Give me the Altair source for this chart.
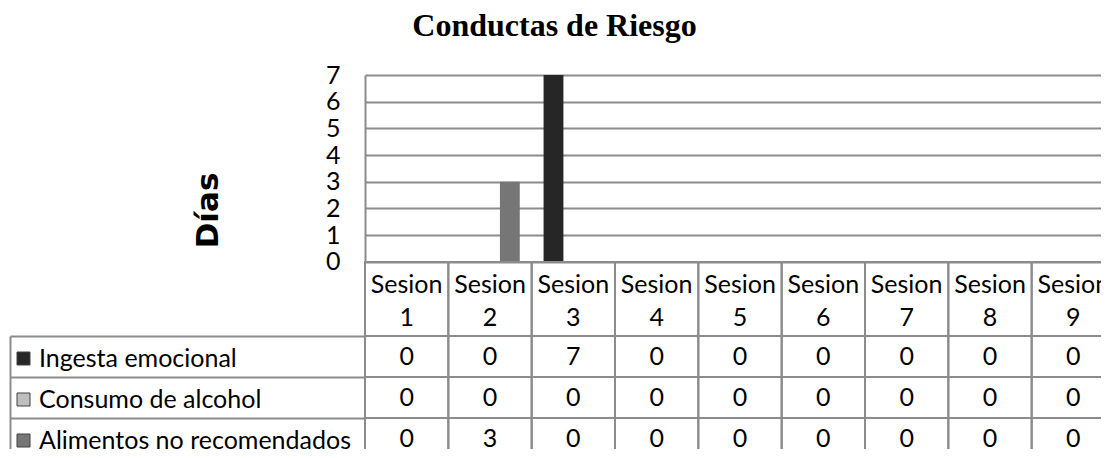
import altair as alt
import pandas as pd

sessions = [f"Sesion {i}" for i in range(1, 10)]
series = ["Ingesta emocional", "Consumo de alcohol", "Alimentos no recomendados"]
ingesta = [0, 0, 7, 0, 0, 0, 0, 0, 0]
consumo = [0, 0, 0, 0, 0, 0, 0, 0, 0]
alimentos = [0, 3, 0, 0, 0, 0, 0, 0, 0]
y_ticks = [0, 1, 2, 3, 4, 5, 6, 7]
colors = ["#262626", "#bfbfbf", "#767676"]

rows = []
for s, vals in zip(series, [ingesta, consumo, alimentos]):
    for sess, v in zip(sessions, vals):
        rows.append({"Sesion": sess, "Serie": s, "Valor": v})
df = pd.DataFrame(rows)
hdr = pd.DataFrame({"Sesion": sessions})

GRID = "#8c8c8c"
FONT = "Lato"
FS = 25
W = 750

x_scale = alt.Scale(domain=sessions, paddingInner=0, paddingOuter=0)
xenc = alt.X("Sesion:N", scale=x_scale, axis=None, sort=sessions)

bars = alt.Chart(df).mark_bar().encode(
    x=xenc,
    xOffset=alt.XOffset("Serie:N", sort=series,
                        scale=alt.Scale(domain=series, paddingInner=0, paddingOuter=0.6)),
    y=alt.Y("Valor:Q", scale=alt.Scale(domain=[0, 7], nice=False),
            axis=alt.Axis(values=y_ticks, title="Días", grid=True, ticks=False,
                          domain=True, domainColor=GRID, gridColor=GRID,
                          domainWidth=2, gridWidth=2, labelPadding=25,
                          labelFontSize=FS, labelFont=FONT, labelColor="black",
                          titleFont="DejaVu Sans", titleFontSize=31, titleFontWeight="bold",
                          titleColor="black", titleX=-157, titleY=135,
                          titleBaseline="middle", titleAngle=270)),
    color=alt.Color("Serie:N", sort=series, scale=alt.Scale(domain=series, range=colors),
                    legend=alt.Legend(orient="none", legendX=-354, legendY=271, title=None,
                                      symbolType="square", symbolSize=169,
                                      symbolStrokeColor="#404040", symbolStrokeWidth=1,
                                      symbolOpacity=1, labelLimit=500,
                                      labelFontSize=FS, labelFont=FONT, labelColor="black",
                                      labelOffset=3, rowPadding=15, padding=0)),
).properties(width=W, height=186.7)

hdr_cells = alt.Chart(hdr).mark_rect(fill="transparent", stroke=GRID, strokeWidth=2).encode(x=xenc)
hdr_text = alt.Chart(hdr).mark_text(lineBreak=" ", fontSize=FS, font=FONT, lineHeight=33,
                                    dy=-14, color="black").encode(x=xenc, text="Sesion:N")
header = alt.layer(hdr_cells, hdr_text).properties(width=W, height=74)

yrow = alt.Scale(domain=series, paddingInner=0, paddingOuter=0)
cells = alt.Chart(df).mark_rect(fill="transparent", stroke=GRID, strokeWidth=2).encode(
    x=xenc,
    y=alt.Y("Serie:N", scale=yrow, sort=series,
            axis=alt.Axis(orient="left", bandPosition=0, tickSize=355, tickColor=GRID,
                          tickWidth=2, labels=False, domain=False, title=None, grid=False)),
)
vals = alt.Chart(df).mark_text(fontSize=FS, font=FONT, color="black").encode(
    x=xenc,
    y=alt.Y("Serie:N", scale=yrow, sort=series,
            axis=alt.Axis(orient="left", offset=355, labels=False, ticks=False, domain=True,
                          domainColor=GRID, domainWidth=2, title=None, grid=False)),
    text="Valor:Q",
)
body = alt.layer(cells, vals).resolve_axis(y="independent").properties(width=W, height=123)

chart = alt.vconcat(bars, header, body, spacing=0, bounds="flush").properties(
    title=alt.TitleParams("Conductas de Riesgo", font="Liberation Serif", fontSize=32,
                          fontWeight="bold", color="black", anchor="middle", offset=20, dx=-8),
    padding={"left": 1, "top": 2, "right": -15, "bottom": -11},
).configure_view(stroke=None)

chart.save("out.html", embed_options={"renderer": "svg", "actions": False})
